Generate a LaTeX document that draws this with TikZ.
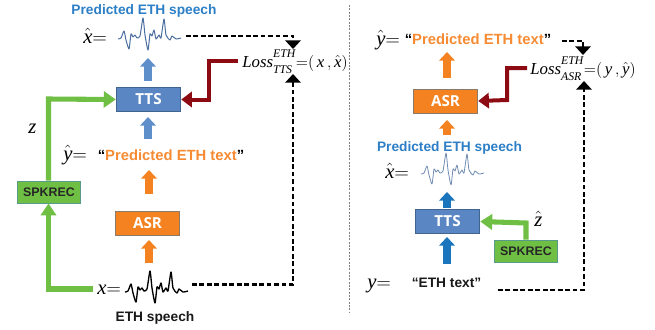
\documentclass[tikz,border=0pt]{standalone}
\usepackage{fontspec}
\setmainfont{Liberation Serif}
\setsansfont{Liberation Sans}
\newfontfamily\boxfont{Open Sans}
\usetikzlibrary{arrows.meta,positioning}
\definecolor{ttsblue}{HTML}{5B86C4}
\definecolor{ttsedge}{HTML}{41648F}
\definecolor{asror}{HTML}{F58220}
\definecolor{asredge}{HTML}{8A7A6A}
\definecolor{spkgreen}{HTML}{6FBF44}
\definecolor{spkedge}{HTML}{5A9A8A}
\definecolor{lossred}{HTML}{8C0A12}
\definecolor{txtblue}{HTML}{2C7FC6}
\definecolor{txtor}{HTML}{F68B33}
\definecolor{arrblue}{HTML}{5F8FCB}
\definecolor{arrdeep}{HTML}{1A75BC}
\definecolor{wavehat}{HTML}{4A6E9E}
\newcommand{\lossmark}[2]{\mathit{Loss}^{\raisebox{2.2pt}{$\scriptstyle\mathit{#1}$}}_{\raisebox{-2.2pt}{$\scriptstyle\mathit{#2}$}}}
\tikzset{
  x=0.75pt,y=-0.75pt,
  modbox/.style={minimum width=48.4pt,minimum height=18pt,inner sep=0pt,line width=0.7pt,font=\boxfont\bfseries\fontsize{11.4}{13}\selectfont,text=white},
  ttsbox/.style={modbox,fill=ttsblue,draw=ttsedge},
  asrbox/.style={modbox,fill=asror,draw=asredge},
  spkbox/.style={modbox,minimum width=47.5pt,minimum height=16.5pt,fill=spkgreen,draw=spkedge,font=\sffamily\bfseries\fontsize{9.3}{11}\selectfont,text=black!85},
  blockup/.style={draw=#1,line width=5.6pt,-{Triangle[length=6.4pt,width=11.5pt]}},
  elbow/.style={draw=#1,line width=3pt,-{Triangle[length=8pt,width=11.5pt]}},
  dashlink/.style={draw=black,line width=1.9pt,dash pattern=on 3.6pt off 2pt,-{Triangle[length=6.5pt,width=11.5pt,fill=black]}},
  lab/.style={inner sep=0pt,font=\sffamily\bfseries\fontsize{10.3}{12}\selectfont},
  predlab/.style={inner sep=0pt,font=\sffamily\bfseries\fontsize{11.1}{13}\selectfont},
  mathlab/.style={inner sep=0pt,anchor=base west,font=\fontsize{15.5}{18}\selectfont},
  losslab/.style={inner sep=0pt,anchor=base west,font=\fontsize{12.6}{14}\selectfont},
  wave/.pic={\draw[pic actions,line join=round] plot[smooth,tension=.35] coordinates {(0,1)(3,0)(6,-7)(8,2)(11,11)(13,-4)(15,-1)(17,-3)(19,0)(22,-2)(25,-20)(27,-3)(30,12)(32,-4)(34,-2)(36,-8)(38,1)(41,-3)(43,0)(46,-19)(48,-3)(52,2)(54,-2)(58,1)(63,0)};}
}
\begin{document}
\begin{tikzpicture}
\useasboundingbox (0,0) rectangle (655,329);
% divider
\coordinate (divT) at (349,5); \coordinate (divB) at (349,312);
\draw[gray,line width=0.5pt,dash pattern=on 1.5pt off 1pt] (divT) -- (divB);

% ---- left panel
\node[ttsbox] (ttsL) at (148.5,99.5) {TTS};
\node[asrbox] (asrL) at (147.5,223) {ASR};
\node[spkbox] (spkL) at (49,192) {SPKREC};
\node[lab,text=txtblue] (titleL) at (144,11) {Predicted ETH speech};
\node[mathlab] (xhatL) at (83,43) {$\hat{\mathit{x}}{=}$};
\node[mathlab] (yhatL) at (63,160) {$\hat{\mathit{y}}{=}$};
\node[predlab] (predL) at (171,155) {``\textcolor{txtor}{Predicted ETH text}''};
\node[mathlab] (zL) at (28,133) {$\mathit{z}$};
\node[mathlab] (xL) at (97,294) {$\mathit{x}{=}$};
\node[lab,text=black!90] (speechL) at (155,318) {ETH speech};
\node[losslab] (lossL) at (242,67) {$\lossmark{ETH}{TTS}{=}\bigl(\,\mathit{x}\,,\hat{\mathit{x}}\bigr)$};

\pic[draw=wavehat,line width=0.75pt] at (118,38) {wave};
\pic[draw=black,line width=1pt] at (125,291) {wave};

\coordinate (a1s) at (148,81); \coordinate (a1e) at (148,58);
\coordinate (a2s) at (148,139); \coordinate (a2e) at (148,117);
\coordinate (a3s) at (149,194); \coordinate (a3e) at (149,170);
\coordinate (a4s) at (149,263); \coordinate (a4e) at (149,240);
\draw[blockup=arrblue] (a1s) -- (a1e);
\draw[blockup=arrblue] (a2s) -- (a2e);
\draw[blockup=asror] (a3s) -- (a3e);
\draw[blockup=asror] (a4s) -- (a4e);

\coordinate (gL) at (93,289);
\draw[draw=spkgreen,line width=3.8pt,-{Triangle[length=9pt,width=11.5pt]}] (gL) -- (48.5,289) -- (spkL.south -| 48.5,0);
\draw[draw=spkgreen,line width=3.8pt,-{Triangle[length=9pt,width=12pt]}] (spkL.north -| 48.5,0) -- (48.5,99) -- (ttsL.west);
\coordinate (rL) at (238,61);
\draw[elbow=lossred] (rL) -- (209,61) -- (209,99.5) -- (ttsL.east);

\coordinate (d1) at (186,36);
\draw[dashlink] (d1) -- (293,36) -- (293,49);
\coordinate (d2) at (192,284.5);
\draw[dashlink] (d2) -- (293,284.5) -- (293,74);

% ---- right panel
\node[asrbox] (asrR) at (445.5,101) {ASR};
\node[ttsbox] (ttsR) at (447.5,221.5) {TTS};
\node[spkbox] (spkR) at (526,251) {SPKREC};
\node[mathlab] (yhatR) at (376,45) {$\hat{\mathit{y}}{=}$};
\node[predlab] (predR) at (478,39) {``\textcolor{txtor}{Predicted ETH text}''};
\node[losslab] (lossR) at (530,74) {$\lossmark{ETH}{ASR}{=}\bigl(\,\mathit{y}\,,\hat{\mathit{y}}\bigr)$};
\node[lab,text=txtblue] (titleR) at (449.5,148) {Predicted ETH speech};
\node[mathlab] (xhatR) at (385,178) {$\hat{\mathit{x}}{=}$};
\node[mathlab] (zR) at (534,226) {$\hat{\mathit{z}}$};
\node[mathlab] (yR) at (367,288) {$\mathit{y}{=}$};
\node[lab,text=black!90] (textR) at (446.5,283) {``ETH text''};

\begin{scope}[shift={(421,173)},xscale=.78,yscale=.65]
\pic[draw=wavehat!80,line width=0.6pt] at (0,0) {wave};
\end{scope}

\coordinate (b1s) at (447,78); \coordinate (b1e) at (447,52);
\coordinate (b2s) at (447,135); \coordinate (b2e) at (447,120);
\coordinate (b3s) at (447,208); \coordinate (b3e) at (447,192);
\coordinate (b4s) at (447,264); \coordinate (b4e) at (447,237);
\draw[blockup=asror] (b1s) -- (b1e);
\draw[blockup=asror] (b2s) -- (b2e);
\draw[blockup=arrdeep] (b3s) -- (b3e);
\draw[blockup=arrdeep] (b4s) -- (b4e);

\draw[draw=spkgreen,line width=3.8pt,-{Triangle[length=9pt,width=11.5pt]}] (spkR.north) -- (526,223) -- (ttsR.east);
\coordinate (rR) at (527,68);
\draw[elbow=lossred] (rR) -- (507,68) -- (507,100) -- (asrR.east);

\coordinate (e1) at (562,41);
\draw[dashlink] (e1) -- (583,41) -- (583,55);
\coordinate (e2) at (498,290);
\draw[dashlink] (e2) -- (584,290) -- (584,81);
\end{tikzpicture}
\end{document}
